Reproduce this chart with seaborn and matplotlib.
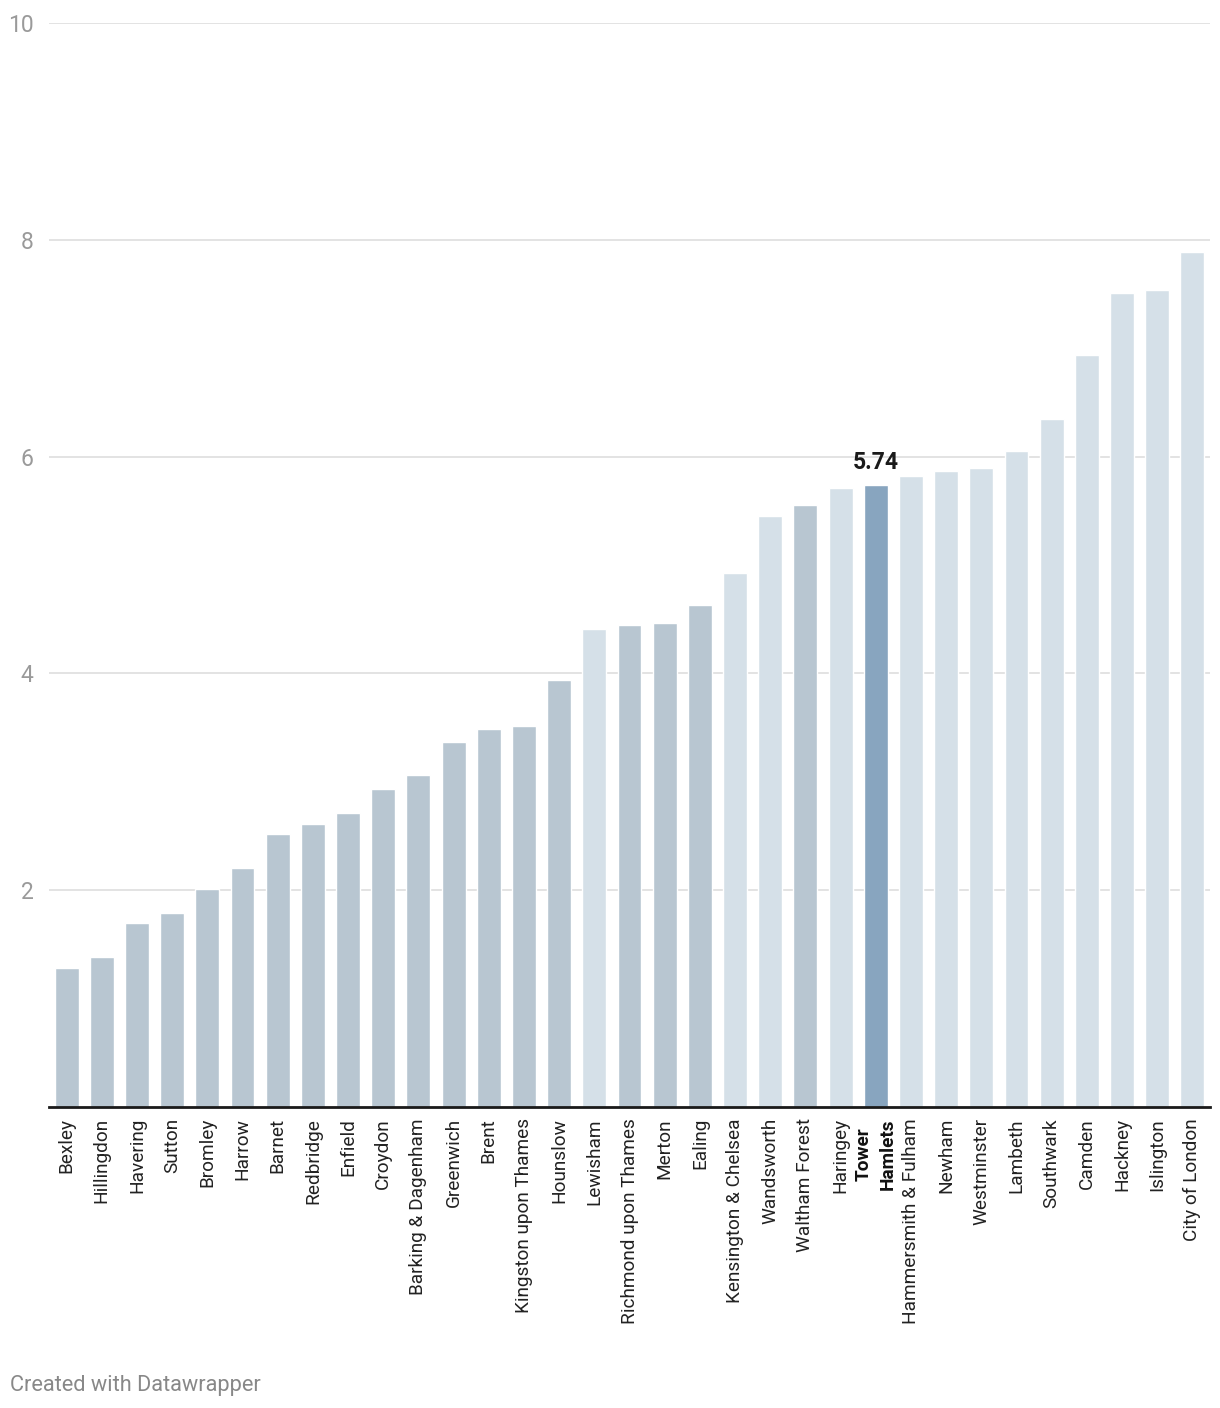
import matplotlib
matplotlib.use("Agg")
import matplotlib.pyplot as plt
import seaborn as sns
import pandas as pd

boroughs = ["Bexley", "Hillingdon", "Havering", "Sutton", "Bromley", "Harrow", "Barnet",
            "Redbridge", "Enfield", "Croydon", "Barking & Dagenham", "Greenwich", "Brent",
            "Kingston upon Thames", "Hounslow", "Lewisham", "Richmond upon Thames", "Merton",
            "Ealing", "Kensington & Chelsea", "Wandsworth", "Waltham Forest", "Haringey",
            "Tower\nHamlets", "Hammersmith & Fulham", "Newham", "Westminster", "Lambeth",
            "Southwark", "Camden", "Hackney", "Islington", "City of London"]
values = [1.28, 1.38, 1.70, 1.79, 2.01, 2.20, 2.52, 2.61, 2.71, 2.93, 3.06, 3.37, 3.49,
          3.51, 3.94, 4.41, 4.45, 4.46, 4.63, 4.93, 5.45, 5.55, 5.71, 5.74, 5.82, 5.87,
          5.89, 6.05, 6.35, 6.94, 7.51, 7.54, 7.89]
# o = outer, i = inner, h = highlighted
group = ["o"] * 15 + ["i", "o", "o", "o", "i", "i", "o", "i", "h"] + ["i"] * 9
highlight = "Tower\nHamlets"

palette = {"o": "#b8c6d1", "i": "#d5e0e8", "h": "#88a5bf"}

df = pd.DataFrame({"borough": boroughs, "value": values, "group": group})

sns.set_style("white")
plt.rcParams["font.family"] = ["Roboto", "DejaVu Sans"]

fig = plt.figure(figsize=(12.2, 14.08), dpi=100)
ax = fig.add_axes([0.0402, 0.2138, 0.9516, 0.7699])

sns.barplot(data=df, x="borough", y="value", hue="group", palette=palette,
            width=0.68, legend=False, ax=ax, saturation=1)

ax.set_ylim(0, 10)
ax.set_xlim(-0.5, len(boroughs) - 0.5)
ax.set_yticks([2, 4, 6, 8, 10])
ax.set_yticklabels(["2", "4", "6", "8", "10"])
ax.yaxis.grid(True, color="#e0e0e0", lw=1.3)
ax.set_axisbelow(True)
ax.tick_params(axis="y", length=0, pad=11, labelsize=16.5, labelcolor="#9a9a9a")
ax.tick_params(axis="x", length=0, pad=8, labelsize=13.7, labelcolor="#222222",
               labelrotation=90)
for lab in ax.get_xticklabels():
    lab.set_verticalalignment("top")
    if lab.get_text() == highlight:
        lab.set_fontweight("bold")
        lab.set_color("#111111")
        lab.set_linespacing(1.45)
ax.set_xlabel("")
ax.set_ylabel("")
for s in ["top", "right", "left"]:
    ax.spines[s].set_visible(False)
ax.spines["bottom"].set_color("#1a1a1a")
ax.spines["bottom"].set_linewidth(2)

i = boroughs.index(highlight)
ax.annotate(f"{values[i]:.2f}", (i, values[i]), xytext=(0, 8), textcoords="offset points",
            ha="center", va="bottom", fontsize=16.5, fontweight="bold", color="#1a1a1a")

fig.text(10 / 1220, 1 - 1385 / 1408, "Created with Datawrapper", fontsize=15.7,
         color="#888888", va="center", ha="left")

fig.savefig("out.png", dpi=100)
